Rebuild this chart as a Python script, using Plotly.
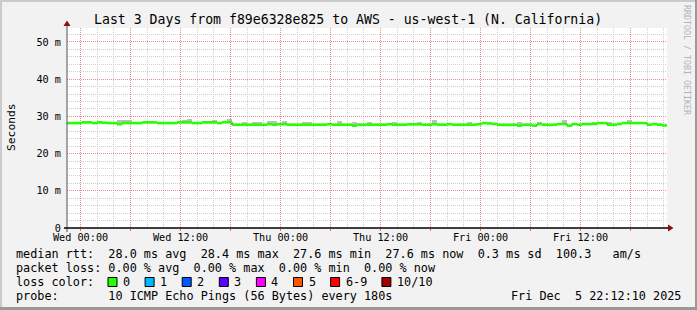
import plotly.graph_objects as go
import pandas as pd

# ---------------- data ----------------
TITLE = "Last 3 Days from f89e6328e825 to AWS - us-west-1 (N. California)"
x_start = "2025-12-02 22:22:30"
x_end = "2025-12-05 22:22:30"
bin_minutes = 36  # consolidation step of the drawn series

# median RTT per bin (ms)
median_ms = [
    28.2, 28.2, 28.2, 28.4, 28.4, 28.2, 28.4, 28.3, 28.2, 28.2,
    27.9, 28.2, 28.2, 28.2, 28.2, 28.4, 28.4, 28.4, 28.2, 28.2,
    28.2, 28.2, 28.4, 28.4, 28.4, 28.2, 28.2, 28.4, 28.4, 28.4,
    28.2, 28.45, 28.45, 27.75, 27.75, 27.75, 27.75, 27.75, 27.75, 27.75,
    27.9, 27.75, 27.9, 27.9, 27.75, 27.75, 27.75, 27.75, 27.75, 27.75,
    27.75, 27.75, 27.9, 27.75, 27.75, 27.75, 27.75, 27.5, 27.75, 27.75,
    27.75, 27.75, 27.75, 27.75, 27.9, 27.75, 27.75, 27.75, 27.85, 27.85,
    27.85, 27.75, 27.75, 27.9, 27.75, 27.75, 27.9, 27.75, 27.75, 27.75,
    27.75, 27.75, 27.9, 28.2, 28.1, 27.95, 27.75, 27.7, 27.7, 27.75,
    27.5, 27.75, 27.75, 27.5, 27.95, 27.75, 27.7, 27.75, 27.95, 27.95,
    27.5, 27.95, 27.75, 27.95, 27.95, 27.95, 28.2, 28.2, 27.75, 27.75,
    27.95, 28.2, 28.2, 28.2, 28.2, 28.2, 27.75, 27.95, 27.75, 27.55,
]

# bins where the ping "smoke" shows above the median, and its top (ms)
smoke_bins = [10, 11, 12, 23, 24, 29, 32, 35, 37, 38, 40, 41, 43, 47, 48,
              54, 57, 60, 65, 70, 73, 80, 90, 94, 99, 105, 108, 112]
smoke_top_ms = [29.0, 29.0, 28.9, 28.9, 29.2, 29.0, 29.4, 28.6, 28.6, 28.6, 28.7, 28.7, 28.7, 28.6, 28.6,
                28.7, 28.6, 28.5, 28.6, 28.6, 29.0, 28.6, 28.5, 28.5, 29.0, 28.6, 28.6, 28.9]

x_tick_times = ["2025-12-03 00:00", "2025-12-03 06:00", "2025-12-03 12:00", "2025-12-03 18:00",
                "2025-12-04 00:00", "2025-12-04 06:00", "2025-12-04 12:00", "2025-12-04 18:00",
                "2025-12-05 00:00", "2025-12-05 06:00", "2025-12-05 12:00", "2025-12-05 18:00"]
x_tick_labels = ["Wed 00:00", "", "Wed 12:00", "", "Thu 00:00", "", "Thu 12:00", "",
                 "Fri 00:00", "", "Fri 12:00", ""]
y_tick_vals = [0, 10, 20, 30, 40, 50]
y_tick_labels = ["0", "10 m", "20 m", "30 m", "40 m", "50 m"]
y_max = 53.75

legend_rtt = "median rtt:  28.0 ms avg  28.4 ms max  27.6 ms min  27.6 ms now  0.3 ms sd  100.3   am/s"
legend_loss = "packet loss: 0.00 % avg  0.00 % max  0.00 % min  0.00 % now"
legend_color_title = "loss color:"
loss_labels = ["0", "1", "2", "3", "4", "5", "6-9", "10/10"]
loss_colors = ["#26ff00", "#00b8ff", "#0059ff", "#5e00ff", "#ff00ff", "#ff5500", "#ff0000", "#a10000"]
legend_probe = "probe:       10 ICMP Echo Pings (56 Bytes) every 180s"
legend_date = "Fri Dec  5 22:12:10 2025"
watermark = "RRDTOOL / TOBI OETIKER"

# ---------------- figure ----------------
W, H = 697, 310
L, R, T, B = 67, 667, 28, 228
MONO = "DejaVu Sans Mono"
MAJOR_GRID = "rgba(255,60,60,0.45)"
MINOR_GRID = "#cfcfcf"


def px(x):
    return (x - L) / (R - L)


def py(y):
    return (B - y) / (B - T)


def nb(s):
    return s.replace(" ", "\u00a0")


edges = pd.date_range(x_start, periods=len(median_ms) + 1, freq=f"{bin_minutes}min")
centers = edges[:-1] + pd.Timedelta(minutes=bin_minutes / 2)

fig = go.Figure()

# smoke
fig.add_trace(go.Bar(
    x=[centers[i] for i in smoke_bins],
    base=[median_ms[i] for i in smoke_bins],
    y=[t - median_ms[i] for i, t in zip(smoke_bins, smoke_top_ms)],
    width=bin_minutes * 60 * 1000,
    marker=dict(color="#bebebe", line=dict(width=0)),
    hoverinfo="skip", showlegend=False,
))

# black connecting step line
fig.add_trace(go.Scatter(
    x=list(edges), y=median_ms + [median_ms[-1]],
    mode="lines", line=dict(color="#000000", width=1, shape="hv"),
    hoverinfo="skip", showlegend=False,
))

# green loss-coloured median segments
gx, gy = [], []
for i, v in enumerate(median_ms):
    gx += [edges[i], edges[i + 1], None]
    gy += [v, v, None]
fig.add_trace(go.Scatter(
    x=gx, y=gy, mode="lines", line=dict(color="#26ff00", width=2.6),
    hoverinfo="skip", showlegend=False,
))

fig.update_layout(
    width=W, height=H, autosize=False,
    margin=dict(l=L, r=W - R, t=T, b=H - B, pad=0),
    paper_bgcolor="#f2f2f2", plot_bgcolor="#ffffff",
    showlegend=False, bargap=0,
    font=dict(family=MONO, size=10.2, color="#000000"),
)

fig.update_xaxes(
    type="date", range=[x_start, x_end],
    tickmode="array", tickvals=x_tick_times, ticktext=x_tick_labels,
    showgrid=True, gridcolor=MAJOR_GRID, griddash="1px,1px", gridwidth=1,
    ticks="outside", ticklen=2, tickcolor="rgba(255,60,60,0.8)", tickwidth=1,
    tickfont=dict(family=MONO, size=10.2, color="#000000"),
    ticklabelstandoff=-2,
    minor=dict(tick0="2025-12-03 00:00", dtick=2 * 3600 * 1000, showgrid=True,
               gridcolor=MINOR_GRID, griddash="1px,1px", gridwidth=1),
    showline=False, zeroline=False, fixedrange=True,
)
fig.update_yaxes(
    range=[0, y_max],
    tickmode="array", tickvals=y_tick_vals, ticktext=y_tick_labels,
    showgrid=True, gridcolor=MAJOR_GRID, griddash="1px,1px", gridwidth=1,
    ticks="", tickfont=dict(family=MONO, size=10.2, color="#000000"),
    ticklabelstandoff=5,
    minor=dict(dtick=2, showgrid=True, gridcolor=MINOR_GRID, griddash="1px,1px", gridwidth=1),
    showline=False, zeroline=False, fixedrange=True,
)

shapes = []
# axes
shapes.append(dict(type="line", xref="paper", yref="paper", x0=px(67), x1=px(67), y0=py(232), y1=py(25),
                   line=dict(color="#555555", width=1)))
shapes.append(dict(type="line", xref="paper", yref="paper", x0=px(64), x1=px(669), y0=py(228), y1=py(228),
                   line=dict(color="#000000", width=1.3)))
# arrows
shapes.append(dict(type="path", xref="paper", yref="paper",
                   path=f"M {px(63.5)} {py(26)} L {px(70.5)} {py(26)} L {px(67)} {py(20.5)} Z",
                   fillcolor="#8b1010", line=dict(width=0)))
shapes.append(dict(type="path", xref="paper", yref="paper",
                   path=f"M {px(668)} {py(224.5)} L {px(668)} {py(231.5)} L {px(673.5)} {py(228)} Z",
                   fillcolor="#8b1010", line=dict(width=0)))
# frame shading
shapes.append(dict(type="rect", xref="paper", yref="paper", x0=px(0), x1=px(W), y0=py(0), y1=py(2),
                   fillcolor="#cbcbcb", line=dict(width=0)))
shapes.append(dict(type="rect", xref="paper", yref="paper", x0=px(0), x1=px(2), y0=py(0), y1=py(H),
                   fillcolor="#cbcbcb", line=dict(width=0)))
shapes.append(dict(type="rect", xref="paper", yref="paper", x0=px(0), x1=px(W), y0=py(H - 3), y1=py(H),
                   fillcolor="#999999", line=dict(width=0)))
shapes.append(dict(type="rect", xref="paper", yref="paper", x0=px(W - 2), x1=px(W), y0=py(0), y1=py(H),
                   fillcolor="#999999", line=dict(width=0)))

annotations = []


def txt(x, y, s, size=11.8, xanchor="left", angle=0, color="#000000"):
    annotations.append(dict(x=px(x), y=py(y), xref="paper", yref="paper", text=nb(s),
                            showarrow=False, xanchor=xanchor, yanchor="middle", textangle=angle,
                            borderpad=0, borderwidth=0,
                            font=dict(family=MONO, size=size, color=color)))


txt(348, 19, TITLE, size=13.2, xanchor="center")
txt(11, 127, "Seconds", size=11.3, xanchor="center", angle=-90)
txt(687, 60, watermark, size=8.3, xanchor="center", angle=90, color="#b4b4b4")
txt(16, 254, legend_rtt)
txt(16, 268, legend_loss)
txt(16, 282, legend_color_title)
txt(16, 296, legend_probe)
txt(681, 296, legend_date, xanchor="right")

char_w = 7.1
bx = 108.0
for lab, col in zip(loss_labels, loss_colors):
    shapes.append(dict(type="rect", xref="paper", yref="paper",
                       x0=px(bx), x1=px(bx + 9), y0=py(277.5), y1=py(286.5),
                       fillcolor=col, line=dict(color="#000000", width=1)))
    txt(bx + 15, 282, lab)
    bx = bx + 15 + len(lab) * char_w + 15

fig.update_layout(shapes=shapes, annotations=annotations)

fig.write_html("out.html")
